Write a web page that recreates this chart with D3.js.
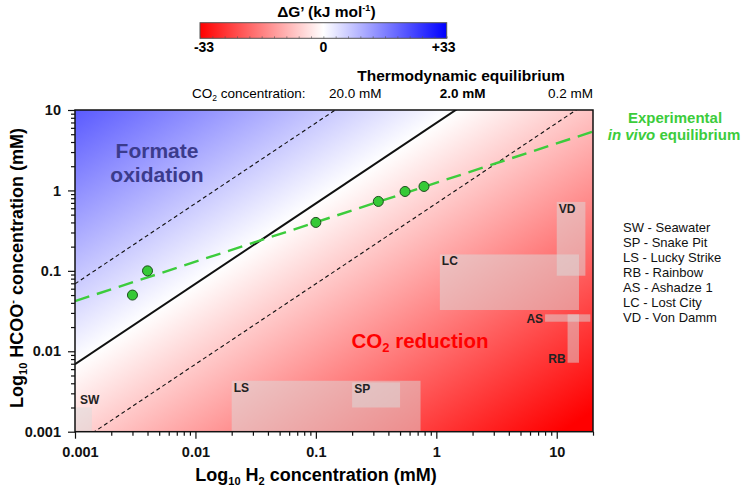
<!DOCTYPE html>
<html><head><meta charset="utf-8">
<script src="https://cdn.jsdelivr.net/npm/d3@7"></script>
<style>
html,body{margin:0;padding:0;background:#fff;}
svg{display:block;font-family:Arial,"Liberation Sans",sans-serif;}
</style></head>
<body><svg id="c" width="745" height="488"></svg>
<script>
// ---------------- data ----------------
const h2Ticks = [0.001, 0.01, 0.1, 1, 10];
const h2TickLabels = ["0.001", "0.01", "0.1", "1", "10"];
const hcooTicks = [0.001, 0.01, 0.1, 1, 10];
const hcooTickLabels = ["0.001", "0.01", "0.1", "1", "10"];
const co2Levels = [20, 2, 0.2];
const co2Labels = ["20.0 mM", "2.0 mM", "0.2 mM"];
const keq = 3.45;            // [HCOO-]/([H2][CO2]) at equilibrium, mM^-1
const co2Ref = 2;            // reference CO2 (mM) for colour map
const kJperDecade = 6.76;    // RT ln10 (kJ/mol)
const dGrange = [-33, 0, 33];
const dGLabels = ["-33", "0", "+33"];
const expH2 = [0.003, 0.004, 0.1, 0.33, 0.55, 0.79];
const expHCOO = [0.05, 0.1, 0.4, 0.73, 0.97, 1.12];
const fitH2 = [0.001, 20];
const fitHCOO = [0.042, 5.4];
const siteCodes = ["SW", "SP", "LS", "RB", "AS", "LC", "VD"];
const siteNames = ["Seawater", "Snake Pit", "Lucky Strike", "Rainbow", "Ashadze 1", "Lost City", "Von Damm"];
const siteH2Min = [0.001, 0.2, 0.02, 12.3, 8, 1.07, 10];
const siteH2Max = [0.00138, 0.5, 0.74, 15.3, 19, 15.3, 17.3];
const siteHCOOMin = [0.001, 0.002, 0.001, 0.0072, 0.0233, 0.0326, 0.087];
const siteHCOOMax = [0.002, 0.0041, 0.0043, 0.0288, 0.0288, 0.16, 0.72];

// ---------------- layout ----------------
const svg = d3.select("#c");
const L = 75, R = 593, T = 110, B = 431.7;
const x = d3.scaleLog().domain([0.001, 20]).range([L, R]);
const y = d3.scaleLog().domain([0.001, 10]).range([B, T]);
const defs = svg.append("defs");

// colour gradient of ΔG' across plot
const ax = 1 / (x(10) - x(1)), ay = 1 / (y(1) - y(10));
const gx = -kJperDecade * ax, gy = -kJperDecade * ay; // dG per px
const gmag = Math.hypot(gx, gy);
const ux = gx / gmag, uy = gy / gmag;
const p0x = x(0.1), p0y = y(keq * co2Ref * 0.1);
const dist = dGrange[2] / gmag;
const colors = ["#ff0000", "#ffffff", "#0000ff"];
const bg = defs.append("linearGradient").attr("id", "bg").attr("gradientUnits", "userSpaceOnUse")
  .attr("x1", p0x - ux * dist).attr("y1", p0y - uy * dist)
  .attr("x2", p0x + ux * dist).attr("y2", p0y + uy * dist);
dGrange.forEach((d, i) => bg.append("stop").attr("offset", (d - dGrange[0]) / (dGrange[2] - dGrange[0])).attr("stop-color", colors[i]));
defs.append("clipPath").attr("id", "clip").append("rect").attr("x", L).attr("y", T).attr("width", R - L).attr("height", B - T);

svg.append("rect").attr("x", L).attr("y", T).attr("width", R - L).attr("height", B - T).attr("fill", "url(#bg)");

// colour bar
const cb = d3.scaleLinear().domain([dGrange[0], dGrange[2]]).range([200, 446.7]);
const cg = defs.append("linearGradient").attr("id", "cbg");
dGrange.forEach((d, i) => cg.append("stop").attr("offset", (d - dGrange[0]) / (dGrange[2] - dGrange[0])).attr("stop-color", colors[i]));
svg.append("rect").attr("x", cb(dGrange[0])).attr("y", 22.7).attr("width", cb(dGrange[2]) - cb(dGrange[0])).attr("height", 15.6)
  .attr("fill", "url(#cbg)").attr("stroke", "#555").attr("stroke-width", 1);
svg.append("g").attr("transform", "translate(0,38.3)")
  .call(d3.axisBottom(cb).tickValues(d3.range(-33, 33.1, 3.3)).tickSize(-2).tickFormat(""))
  .call(g => g.select(".domain").remove())
  .call(g => g.selectAll("line").attr("stroke", "#555").attr("stroke-width", 0.6));
svg.selectAll(".cbl").data(dGrange).enter().append("text")
  .attr("x", (d, i) => cb(d) + (i === 0 ? 4 : i === 2 ? -3 : 0)).attr("y", 51.7)
  .attr("text-anchor", "middle").attr("font-weight", "bold").attr("font-size", 14).text((d, i) => dGLabels[i]);
const cbt = svg.append("text").attr("x", cb(0) + 3).attr("y", 16.5).attr("text-anchor", "middle")
  .attr("font-weight", "bold").attr("font-size", 15.5);
cbt.append("tspan").text("ΔG’ (kJ mol");
cbt.append("tspan").attr("font-size", 9).attr("dy", -6).text("-1");
cbt.append("tspan").attr("dy", 6).text(")");

// site rectangles
const plot = svg.append("g").attr("clip-path", "url(#clip)");
plot.selectAll(".site").data(siteCodes).enter().append("rect")
  .attr("x", (d, i) => x(siteH2Min[i])).attr("y", (d, i) => y(siteHCOOMax[i]))
  .attr("width", (d, i) => x(siteH2Max[i]) - x(siteH2Min[i]))
  .attr("height", (d, i) => y(siteHCOOMin[i]) - y(siteHCOOMax[i]))
  .attr("fill", "#dcdcdc").attr("fill-opacity", 0.5);

// equilibrium lines
co2Levels.forEach((c, i) => {
  const xs = [0.001, 20];
  plot.append("line").attr("x1", x(xs[0])).attr("y1", y(keq * c * xs[0])).attr("x2", x(xs[1])).attr("y2", y(keq * c * xs[1]))
    .attr("stroke", "#111").attr("stroke-width", i === 1 ? 2 : 1.1).attr("stroke-dasharray", i === 1 ? null : "4,3");
});
// experimental fit
svg.append("line").attr("x1", x(fitH2[0])).attr("y1", y(fitHCOO[0])).attr("x2", x(fitH2[1])).attr("y2", y(fitHCOO[1]))
  .attr("stroke", "#3ccc3c").attr("stroke-width", 2.4).attr("stroke-dasharray", "15,8");
svg.selectAll(".pt").data(expH2).enter().append("circle")
  .attr("cx", d => x(d)).attr("cy", (d, i) => y(expHCOO[i])).attr("r", 5)
  .attr("fill", "#36c936").attr("stroke", "#1d4d1d").attr("stroke-width", 1);

// frame
svg.append("rect").attr("x", L).attr("y", T).attr("width", R - L).attr("height", B - T)
  .attr("fill", "none").attr("stroke", "#111").attr("stroke-width", 1.5);

// site labels
const lab = (t, xx, yy, anchor) => svg.append("text").attr("x", xx).attr("y", yy).attr("text-anchor", anchor || "start")
  .attr("font-weight", "bold").attr("font-size", 12).attr("fill", "#222").text(t);
siteCodes.forEach((c, i) => {
  const rx = x(siteH2Min[i]), ry = y(siteHCOOMax[i]), rb = y(siteHCOOMin[i]);
  if (c === "SW") lab(c, rx + 5, ry - 3);
  else if (c === "AS") lab(c, rx - 2, rb + 1, "end");
  else if (c === "RB") lab(c, rx - 2, rb, "end");
  else lab(c, rx + 2, ry + 11);
});

// axes
const minorVals = [];
[0.001, 0.01, 0.1, 1, 10].forEach(d => { for (let k = 2; k <= 9; k++) if (d * k <= 20) minorVals.push(d * k); });
const minorY = minorVals.filter(v => v < 10);
const axStyle = g => { g.select(".domain").remove(); g.selectAll("line").attr("stroke", "#111").attr("stroke-width", 1.2); };
svg.append("g").attr("transform", `translate(0,${B})`).call(d3.axisBottom(x).tickValues(minorVals).tickSize(4).tickFormat("")).call(axStyle);
svg.append("g").attr("transform", `translate(${L},0)`).call(d3.axisLeft(y).tickValues(minorY).tickSize(4).tickFormat("")).call(axStyle);
const xa = svg.append("g").attr("transform", `translate(0,${B})`)
  .call(d3.axisBottom(x).tickValues(h2Ticks).tickSize(7).tickPadding(8).tickFormat((d, i) => h2TickLabels[i])).call(axStyle);
xa.selectAll("text").attr("font-size", 14.5).attr("font-weight", "bold").attr("fill", "#111").attr("font-family", null)
  .attr("dx", (d, i) => i === 0 ? 5 : 0);
const ya = svg.append("g").attr("transform", `translate(${L},0)`)
  .call(d3.axisLeft(y).tickValues(hcooTicks).tickSize(7).tickPadding(7).tickFormat((d, i) => hcooTickLabels[i])).call(axStyle);
ya.selectAll("text").attr("font-size", 14.5).attr("font-weight", "bold").attr("fill", "#111").attr("font-family", null);

// axis titles
const xt = svg.append("text").attr("x", 316).attr("y", 481).attr("text-anchor", "middle").attr("font-weight", "bold").attr("font-size", 18);
xt.append("tspan").text("Log");
xt.append("tspan").attr("font-size", 11).attr("dy", 4).text("10");
xt.append("tspan").attr("dy", -4).text(" H");
xt.append("tspan").attr("font-size", 11).attr("dy", 4).text("2");
xt.append("tspan").attr("dy", -4).text(" concentration (mM)");
const yt = svg.append("text").attr("transform", "translate(23,268) rotate(-90)").attr("text-anchor", "middle").attr("font-weight", "bold").attr("font-size", 18);
yt.append("tspan").text("Log");
yt.append("tspan").attr("font-size", 11).attr("dy", 4).text("10");
yt.append("tspan").attr("dy", -4).text(" HCOO");
yt.append("tspan").attr("font-size", 11).attr("dy", -7).text("-");
yt.append("tspan").attr("dy", 7).text(" concentration (mM)");

// region labels
svg.append("text").attr("x", 157).attr("y", 158.3).attr("text-anchor", "middle").attr("font-weight", "bold").attr("font-size", 21).attr("fill", "#3b3b8c").text("Formate");
svg.append("text").attr("x", 157).attr("y", 181.7).attr("text-anchor", "middle").attr("font-weight", "bold").attr("font-size", 21).attr("fill", "#3b3b8c").text("oxidation");
const co2t = svg.append("text").attr("x", 351.5).attr("y", 348.3).attr("font-weight", "bold").attr("font-size", 20.5).attr("fill", "#ff0000");
co2t.append("tspan").text("CO");
co2t.append("tspan").attr("font-size", 13).attr("dy", 4).text("2");
co2t.append("tspan").attr("dy", -4).text(" reduction");

// equilibrium header
svg.append("text").attr("x", 461).attr("y", 80.5).attr("text-anchor", "middle").attr("font-weight", "bold").attr("font-size", 15.5).text("Thermodynamic equilibrium");
const cc = svg.append("text").attr("x", 192).attr("y", 98).attr("font-size", 13.5);
cc.append("tspan").text("CO");
cc.append("tspan").attr("font-size", 8.5).attr("dy", 3).text("2");
cc.append("tspan").attr("dy", -3).text(" concentration:");
const co2LabelOffset = [20, 7, 0];
co2Levels.forEach((c, i) => {
  const xTop = x(10 / (keq * c));
  svg.append("text").attr("x", i === 2 ? R : xTop + co2LabelOffset[i]).attr("y", 98)
    .attr("text-anchor", i === 2 ? "end" : "middle").attr("font-size", 13.5)
    .attr("font-weight", i === 1 ? "bold" : "normal").text(co2Labels[i]);
});

// experimental label
svg.append("text").attr("x", 675).attr("y", 122.5).attr("text-anchor", "middle").attr("font-weight", "bold").attr("font-size", 15).attr("fill", "#3ccc3c").text("Experimental");
const iv = svg.append("text").attr("x", 674).attr("y", 140).attr("text-anchor", "middle").attr("font-weight", "bold").attr("font-size", 15).attr("fill", "#3ccc3c");
iv.append("tspan").attr("font-style", "italic").text("in vivo");
iv.append("tspan").text(" equilibrium");

// legend
svg.selectAll(".leg").data(siteCodes).enter().append("text")
  .attr("x", 623).attr("y", (d, i) => 232 + i * 15).attr("font-size", 13).attr("fill", "#111")
  .text((d, i) => `${d} - ${siteNames[i]}`);
</script></body></html>
